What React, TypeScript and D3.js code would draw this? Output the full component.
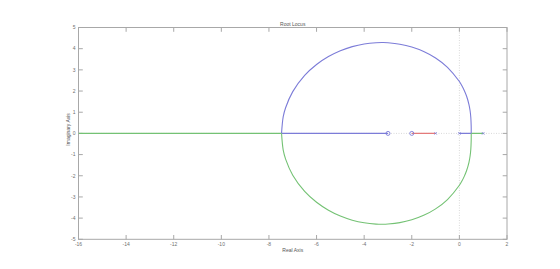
import React from "react";
import * as d3 from "d3";

const xTicks = [-16, -14, -12, -10, -8, -6, -4, -2, 0, 2];
const yTicks = [-5, -4, -3, -2, -1, 0, 1, 2, 3, 4, 5];

const poles = [0, 1, -1];
const zeros = [-3, -2];

// upper complex branch (blue), from right breakaway to left breakaway
const upperRe = [0.4977, 0.495, 0.48, 0.45, 0.4, 0.3, 0.2, 0.1, 0, -0.5, -1, -1.5, -2, -2.5, -3, -3.2, -3.5, -4, -4.5, -5, -5.5, -6, -6.5, -7, -7.3, -7.4, -7.471];
const upperIm = [0, 0.356, 0.75, 1.069, 1.376, 1.764, 2.04, 2.261, 2.449, 3.122, 3.562, 3.868, 4.079, 4.213, 4.279, 4.29, 4.282, 4.222, 4.098, 3.904, 3.629, 3.253, 2.739, 1.972, 1.212, 0.79, 0];
// lower complex branch (green)
const lowerRe = [0.4977, 0.495, 0.48, 0.45, 0.4, 0.3, 0.2, 0.1, 0, -0.5, -1, -1.5, -2, -2.5, -3, -3.2, -3.5, -4, -4.5, -5, -5.5, -6, -6.5, -7, -7.3, -7.4, -7.471];
const lowerIm = [0, -0.356, -0.75, -1.069, -1.376, -1.764, -2.04, -2.261, -2.449, -3.122, -3.562, -3.868, -4.079, -4.213, -4.279, -4.29, -4.282, -4.222, -4.098, -3.904, -3.629, -3.253, -2.739, -1.972, -1.212, -0.79, 0];

// real-axis segments [from, to]
const blueReal = [[0, 0.4977], [-7.471, -3]];
const greenReal = [[1, 0.4977], [-7.471, -16]];
const redReal = [[-1, -2]];

const W = 560, H = 269;
const L = 78.5, R = 507, T = 27.5, B = 239.3;

export default function App() {
  const x = d3.scaleLinear().domain([-16, 2]).range([L, R]);
  const y = d3.scaleLinear().domain([-5, 5]).range([B, T]);
  const line = d3.line<[number, number]>().x(d => x(d[0])).y(d => y(d[1])).curve(d3.curveCatmullRom);
  const straight = d3.line<[number, number]>().x(d => x(d[0])).y(d => y(d[1]));
  const upper = upperRe.map((r, i) => [r, upperIm[i]] as [number, number]);
  const lower = lowerRe.map((r, i) => [r, lowerIm[i]] as [number, number]);
  const blue = "#7c7cd8";
  const green = "#74c274";
  const red = "#e47a7a";
  const axisCol = "#a8a8a8";
  const txtCol = "#707070";
  const tl = 4.3;
  const sw = 1.1;
  const font = "Liberation Sans, Arial, sans-serif";
  const seg = (s: number[][], c: string, k: string) =>
    s.map((p, i) => (
      <path key={k + i} d={straight([[p[0], 0], [p[1], 0]]) || ""} fill="none" stroke={c} strokeWidth={sw} />
    ));
  return (
    <svg width={W} height={H} style={{ position: "absolute", left: 0, top: 0 }}>
      <rect x={0} y={0} width={W} height={H} fill="#fff" />
      <defs>
        <clipPath id="pa"><rect x={L} y={T} width={R - L} height={B - T} /></clipPath>
      </defs>
      {/* dotted zero lines */}
      <line x1={x(0)} x2={x(0)} y1={T} y2={B} stroke="#cfcfcf" strokeWidth={0.8} strokeDasharray="1,1.5" />
      <line x1={L} x2={R} y1={y(0)} y2={y(0)} stroke="#cfcfcf" strokeWidth={0.8} strokeDasharray="1,1.5" />
      {/* box */}
      <rect x={L} y={T} width={R - L} height={B - T} fill="none" stroke={axisCol} strokeWidth={1} />
      {xTicks.map(t => (
        <g key={"x" + t}>
          <line x1={x(t)} x2={x(t)} y1={B} y2={B - tl} stroke={axisCol} />
          <line x1={x(t)} x2={x(t)} y1={T} y2={T + tl} stroke={axisCol} />
          <text x={x(t)} y={245.5} fontSize={5} fill={txtCol} textAnchor="middle" fontFamily={font}>{t}</text>
        </g>
      ))}
      {yTicks.map(t => (
        <g key={"y" + t}>
          <line x1={L} x2={L + tl} y1={y(t)} y2={y(t)} stroke={axisCol} />
          <line x1={R} x2={R - tl} y1={y(t)} y2={y(t)} stroke={axisCol} />
          <text x={75.5} y={y(t) + 1.8} fontSize={5} fill={txtCol} textAnchor="end" fontFamily={font}>{t}</text>
        </g>
      ))}
      <text x={(L + R) / 2} y={25.5} fontSize={5} fill="#555" textAnchor="middle" fontFamily={font}>Root Locus</text>
      <text x={(L + R) / 2} y={252} fontSize={5} fill="#555" textAnchor="middle" fontFamily={font}>Real Axis</text>
      <text transform={`translate(70,${(T + B) / 2 - 4}) rotate(-90)`} fontSize={5} fill="#555" textAnchor="middle" fontFamily={font}>Imaginary Axis</text>
      <g clipPath="url(#pa)">
        {seg(greenReal, green, "g")}
        {seg(blueReal, blue, "b")}
        {seg(redReal, red, "r")}
        <path d={line(upper) || ""} fill="none" stroke={blue} strokeWidth={sw} />
        <path d={line(lower) || ""} fill="none" stroke={green} strokeWidth={sw} />
        {zeros.map(z => (
          <circle key={"z" + z} cx={x(z)} cy={y(0)} r={2} fill="none" stroke={blue} strokeWidth={0.9} />
        ))}
        {poles.map(p => (
          <g key={"p" + p} stroke={blue} strokeWidth={0.8}>
            <line x1={x(p) - 1.2} x2={x(p) + 1.2} y1={y(0) - 1.2} y2={y(0) + 1.2} />
            <line x1={x(p) - 1.2} x2={x(p) + 1.2} y1={y(0) + 1.2} y2={y(0) - 1.2} />
          </g>
        ))}
      </g>
    </svg>
  );
}
